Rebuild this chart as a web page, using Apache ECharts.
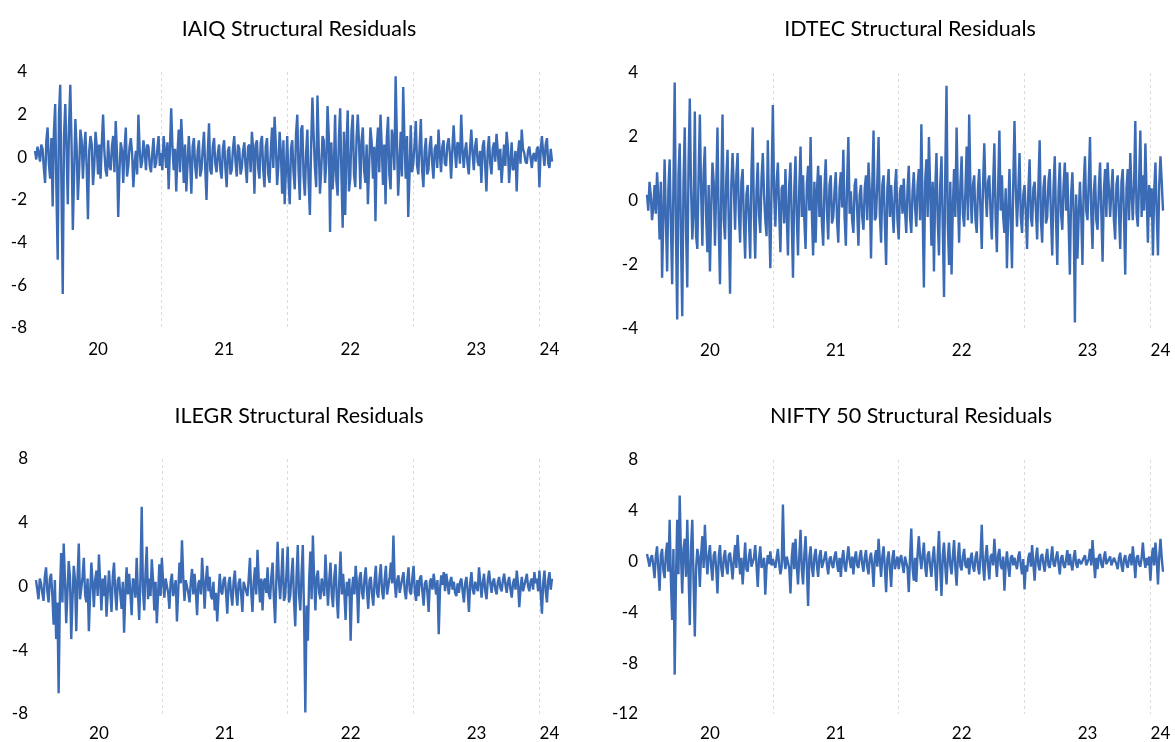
<!DOCTYPE html>
<html>
<head>
<meta charset="utf-8">
<script src="https://cdn.jsdelivr.net/npm/echarts@6/dist/echarts.min.js"></script>
<style>
html,body{margin:0;padding:0;background:#fff;}
#c{width:1175px;height:742px;}
</style>
</head>
<body>
<div id="c"></div>
<script>
// ---- Data (about two samples per week, Jan 2020 -> Feb 2024) ----
const titles = ['IAIQ Structural Residuals', 'IDTEC Structural Residuals', 'ILEGR Structural Residuals', 'NIFTY 50 Structural Residuals'];
const yearLabels = ['20', '21', '22', '23', '24'];
const yearLabelIdx = [50, 150, 250, 350, 408];
const yearBoundIdx = [100, 200, 300, 400];

const iaiq = [
  0.3,-0.1,0.5,0.2,-0.2,0.6,0.4,-0.5,-1.2,0.8,1.4,-0.3,-1.0,0.9,-2.3,1.2,2.5,-1.6,-4.8,2.0,
  3.4,-1.5,-6.4,1.0,2.5,0.4,-2.2,1.5,3.4,0.6,-3.4,-0.8,1.8,0.5,-2.0,-0.6,1.3,0.8,-1.0,0.4,
  1.2,-0.5,-2.9,0.3,1.0,0.6,-1.3,-0.4,1.2,0.5,-0.8,0.6,-1.0,0.7,2.0,0.3,-0.6,-0.9,0.8,-0.4,
  -0.6,0.5,1.0,-0.7,1.7,0.2,-2.8,-0.6,0.7,0.3,-1.2,0.4,1.4,-0.9,-0.4,0.5,0.9,0.2,-1.4,-0.3,
  0.3,-0.8,2.0,0.4,-0.5,-0.2,0.8,0.3,-0.6,0.6,0.5,-0.4,-0.7,0.2,0.9,-0.5,-0.3,0.4,1.0,-0.4,
  0.2,-0.6,1.0,0.3,-0.5,0.7,-1.5,0.4,2.3,0.5,-0.6,0.4,-1.6,0.2,1.3,-0.7,1.8,0.4,-1.2,0.6,
  -1.6,-0.3,1.0,-0.2,-1.7,0.5,0.9,-0.4,-1.0,0.3,0.8,-0.9,-0.6,0.4,1.2,-0.5,-2.0,0.2,1.6,-0.6,
  -0.8,0.5,0.9,-0.3,-0.7,0.2,0.6,-0.6,-1.0,0.4,0.8,-0.5,-1.4,0.3,0.5,-0.8,-0.6,0.4,1.0,-0.2,
  -0.9,0.6,0.4,-0.8,-0.5,0.3,0.7,-0.4,-1.2,0.5,0.6,-0.7,1.2,0.4,-1.7,0.6,0.8,-0.5,-1.0,0.7,
  1.0,-0.6,-1.4,0.5,0.9,-0.8,-1.2,0.3,1.4,-0.5,1.9,0.6,-1.3,-0.4,1.2,0.2,-1.7,0.8,-2.2,-0.6,
  1.0,-1.0,-2.2,0.4,0.8,-0.7,-1.5,1.1,2.0,-0.6,-2.0,1.3,1.5,-0.9,-1.8,0.2,1.3,-1.2,-2.7,0.6,
  2.8,1.0,-0.5,-1.4,2.9,0.5,-1.7,-0.6,1.0,0.8,-1.2,-0.3,2.4,1.0,-3.5,0.7,-1.5,-0.5,2.0,-1.1,
  -1.8,0.9,2.3,-0.8,-3.3,1.2,-2.7,0.5,2.2,-1.6,-1.0,1.2,2.0,-0.8,-1.4,0.9,2.0,0.6,-1.5,0.8,
  1.4,-0.6,-1.2,0.6,-2.2,-0.4,1.4,0.7,-1.0,0.5,-3.0,0.4,1.4,-0.7,2.0,0.5,-1.3,0.6,-2.2,0.9,
  1.9,-0.8,-1.5,1.3,0.8,-0.6,3.8,0.9,-1.8,-0.4,1.2,-0.9,3.3,0.8,-1.0,1.0,-2.8,-0.8,1.5,-0.7,
  -0.3,0.6,1.7,-0.4,-0.8,0.5,1.8,-0.6,-1.4,0.3,0.9,-0.8,-0.6,0.5,1.0,-0.3,-1.0,0.4,0.6,-0.5,
  1.3,0.2,-0.7,0.5,0.8,-0.3,-0.4,0.6,0.9,0.2,-1.0,0.4,1.5,0.3,-0.5,0.7,0.6,-0.3,2.0,0.4,
  -0.5,0.3,0.7,-0.3,-0.8,0.4,1.3,0.2,-0.6,0.5,0.9,-0.2,-0.4,0.3,-1.2,0.5,0.8,-0.4,-1.6,0.3,
  1.0,-0.3,-0.8,0.4,0.7,-0.2,1.1,0.3,-0.6,0.4,-1.2,-0.3,0.6,-0.4,1.2,0.5,-1.2,-0.2,0.7,-0.6,
  -0.5,0.3,-1.6,0.2,0.8,-0.3,1.3,0.4,0.2,-0.2,-0.3,0.3,0.5,0.0,-0.5,0.1,0.2,-0.2,0.4,0.5,
  -1.4,0.3,1.0,0.2,-0.4,0.6,0.9,-0.3,-0.5,0.4,-0.2
];

const idtec = [
  0.2,-0.3,0.6,0.2,-0.6,-0.2,0.5,-0.4,0.9,0.1,-1.2,0.6,-2.4,-0.5,1.3,-0.6,-2.2,0.4,1.3,-0.8,
  -2.6,0.5,3.7,-1.0,-3.7,0.8,1.8,-1.2,-3.6,0.6,2.3,-0.9,-2.7,1.1,3.2,0.4,-1.2,-0.4,2.8,-1.1,
  -1.5,0.8,2.7,0.3,-1.4,0.9,1.7,-0.5,-1.6,0.5,-2.2,-0.3,1.2,0.6,-1.4,0.4,2.3,-0.8,-2.6,0.3,
  2.7,-0.6,-1.2,0.7,1.6,-0.8,-2.9,0.5,1.5,0.4,-0.9,0.8,1.5,-0.4,-1.3,0.6,1.0,-0.7,-1.8,0.2,
  0.5,-0.6,-1.8,0.9,2.3,-0.5,-1.8,0.3,1.2,-0.4,-1.0,0.7,1.5,0.2,-0.6,-1.1,1.9,-0.4,-2.1,0.6,
  3.0,0.2,-0.8,0.6,1.2,-0.3,-1.6,0.4,0.5,-0.7,1.0,-0.4,-1.7,0.5,1.2,-0.6,-2.4,0.3,1.4,-0.5,
  -1.7,0.4,1.7,-0.5,0.8,-0.6,-1.5,0.5,1.1,-0.3,2.0,-0.4,-1.7,0.6,-1.3,0.3,1.1,-0.5,0.8,-0.7,
  -1.4,0.4,1.3,-0.3,-1.2,0.5,0.8,-0.7,-0.5,0.3,0.9,-0.6,-1.3,0.4,0.9,-0.2,1.6,-0.5,-1.4,0.6,
  2.0,-0.4,0.3,-0.6,-1.0,0.5,0.7,-0.3,-1.4,0.2,0.5,-0.5,-0.9,0.4,0.8,-0.6,1.2,0.3,-1.8,0.5,
  2.2,-0.6,-0.5,0.6,2.0,-0.4,-1.3,0.5,0.8,-0.7,-2.0,0.4,1.0,-0.5,0.5,-0.3,-1.0,0.4,1.0,-0.6,
  -1.2,0.3,0.5,-0.4,0.7,-0.3,-1.0,0.4,1.1,-0.5,-1.0,0.3,0.9,-0.2,-0.8,0.5,1.0,-0.6,2.4,-0.3,
  -2.7,0.6,1.3,-0.5,2.0,0.4,-1.4,0.6,-2.2,0.3,1.5,-0.6,-1.7,0.5,1.4,-0.8,-3.0,0.9,3.6,-0.7,
  -2.0,0.6,-2.3,-0.2,1.0,-0.5,2.3,0.2,-1.3,0.5,1.4,-0.4,-0.8,0.3,1.7,-0.6,2.7,0.4,-0.7,0.5,
  0.8,-0.6,-1.0,0.4,1.0,-0.3,-1.5,0.5,1.8,0.3,-0.5,0.6,0.8,-0.4,-1.2,0.5,1.8,-0.5,-1.6,0.4,
  2.2,-0.3,0.8,-0.5,-1.0,0.4,-2.1,-0.4,1.0,-0.6,-2.1,0.5,2.5,0.4,-0.8,0.3,1.5,-0.5,-1.0,0.2,
  0.5,-0.4,-1.5,0.3,1.3,-0.5,-0.8,0.4,0.6,-0.3,-1.2,0.5,1.9,-0.6,-1.3,0.4,0.8,-0.7,-0.5,0.6,
  1.0,-0.5,-1.7,0.4,1.4,-0.6,-2.0,0.3,1.2,-0.4,-0.9,0.5,1.2,-0.3,0.9,-0.7,-2.3,0.2,0.9,-0.4,
  -3.8,0.2,-1.8,-0.5,0.6,-0.4,-2.0,0.5,1.4,-0.3,-0.6,0.6,2.0,-0.4,-1.5,0.3,0.8,-0.6,-0.9,0.4,
  1.2,-0.4,-1.9,0.3,1.0,-0.5,1.2,0.4,-0.5,0.3,1.0,-0.6,-1.2,0.5,0.8,-0.4,-1.5,0.6,1.0,-0.5,
  -2.3,0.4,1.0,-0.6,1.5,0.3,-0.6,0.5,2.5,-0.4,-0.8,0.6,2.2,-0.5,0.8,-0.3,1.8,0.2,-1.3,0.5,
  -0.5,0.4,-1.7,0.3,1.2,-0.4,-1.7,0.5,1.4,0.6,-0.3
];

const ilegr = [
  0.4,-0.2,-0.8,0.5,0.2,-0.4,-0.9,0.6,1.2,-0.3,-1.0,0.5,0.8,-0.6,-2.4,0.4,-3.3,-1.0,-6.7,-0.5,
  2.1,-1.0,2.7,0.5,-2.3,-0.4,1.6,0.6,-3.3,-0.8,1.3,0.4,-2.8,0.5,2.7,-0.8,-0.9,0.6,1.8,-0.5,
  -1.0,0.5,-2.8,-0.5,1.5,0.2,-1.3,0.4,1.0,-0.6,2.0,0.3,-1.5,0.5,-0.6,0.7,-1.9,-0.4,1.0,-0.3,
  -1.6,0.6,1.5,-0.4,-1.5,0.4,0.6,-0.5,-1.4,0.3,-2.9,-0.4,1.2,-0.5,0.8,-0.4,-1.8,0.5,0.3,-0.7,
  1.8,-0.4,-2.1,0.6,5.0,-0.3,-1.5,0.8,2.5,-0.8,0.5,-0.6,1.7,0.4,-1.5,0.3,-2.3,-0.5,1.4,-0.6,
  1.8,0.3,-0.7,0.5,0.6,-0.4,-1.4,0.3,0.8,-0.6,-0.5,0.4,-2.2,-0.3,1.5,0.2,2.9,0.6,-0.9,0.4,
  0.5,-0.4,-1.0,0.3,1.1,-0.5,0.8,-0.3,-1.8,0.2,0.4,-0.5,1.8,0.3,-1.4,0.4,1.3,-0.3,0.6,-0.6,
  -0.8,0.3,-1.5,-0.4,-2.2,-0.6,0.8,-0.3,-0.5,0.4,0.6,-0.4,-1.7,0.2,0.6,-0.5,-1.2,0.3,1.0,-0.4,
  -1.2,0.2,0.5,-0.5,-1.6,0.3,0.4,-0.3,-0.6,0.5,1.8,-0.4,-1.6,0.3,1.2,-0.5,2.3,0.4,-1.0,0.5,
  -1.5,0.3,0.5,-0.4,1.2,-0.5,-0.8,0.6,1.5,-0.7,-2.3,0.5,2.8,0.4,-0.8,0.6,2.4,-0.9,-0.6,0.8,
  2.5,-1.0,-0.6,0.7,1.8,-0.9,-2.5,0.6,2.6,-0.5,-1.5,0.8,2.6,-1.8,-7.9,-1.2,-3.4,0.4,2.2,-0.8,
  3.2,0.5,-1.5,0.6,1.0,-0.4,-0.8,0.5,0.6,-0.6,2.0,0.3,-1.2,0.4,1.5,-0.5,-1.3,0.6,1.4,-0.7,
  -2.0,0.4,2.2,-0.5,0.8,-0.4,-2.1,0.3,-0.6,0.5,-3.4,-0.3,0.6,-0.5,1.3,0.2,-2.3,0.5,0.9,-0.4,
  -0.8,0.5,1.2,-0.3,-1.4,0.4,0.6,-0.5,-1.2,0.3,1.3,-0.4,-0.7,0.6,1.4,-0.3,-0.8,0.4,1.3,-0.5,
  -0.5,0.6,1.5,0.2,3.2,0.3,-0.7,0.4,0.7,-0.4,-0.5,0.5,0.9,-0.3,-0.8,0.4,1.2,-0.3,-0.5,0.5,
  1.3,-0.3,-0.9,0.4,-0.6,0.5,0.7,-0.3,-1.2,0.2,0.4,-0.4,-1.6,0.3,0.5,-0.2,0.8,0.1,-0.5,0.4,
  -3.0,-0.2,0.7,0.1,0.9,-0.3,0.8,0.2,-0.5,0.3,0.6,-0.2,0.3,-0.4,-0.6,0.2,-0.4,0.3,0.5,-0.3,
  -1.0,0.2,0.6,-0.3,-1.6,0.2,0.9,-0.2,-0.5,0.3,0.4,-0.3,1.2,0.3,-0.7,0.2,0.8,-0.3,-0.8,0.4,
  1.0,0.2,-0.4,0.3,0.5,-0.2,-0.5,0.3,0.6,-0.1,-0.3,0.4,0.8,0.1,-0.4,0.3,0.6,-0.2,-0.7,0.2,
  0.5,-0.2,1.0,0.2,-1.3,-0.1,0.6,-0.3,-0.3,0.4,0.8,0.0,-0.3,0.3,0.5,-0.2,0.9,0.2,0.5,-0.3,
  1.0,-0.4,-1.7,0.2,1.0,-0.3,-1.0,0.4,0.9,-0.2,0.5
];

const nifty = [
  0.6,0.1,-0.4,0.3,0.5,-0.3,-1.3,0.4,1.2,-0.6,-2.3,0.5,1.0,-0.7,-1.3,0.6,1.5,-0.8,3.3,-1.5,
  -4.6,1.0,-8.9,-1.5,3.3,-1.0,5.2,0.5,-2.5,1.0,1.8,-1.2,3.3,-0.8,-5.0,1.2,3.3,-1.5,-5.9,-0.5,
  1.0,0.3,-2.0,0.6,2.0,-0.5,2.9,0.4,-1.0,0.5,1.3,-0.4,-1.5,0.5,0.8,-0.6,-2.5,0.4,1.3,-0.5,
  -1.2,0.3,0.9,-0.4,-1.0,0.5,0.7,-0.3,-1.4,0.2,1.3,-0.5,2.1,0.4,-1.0,0.3,-1.8,-0.2,1.5,-0.6,
  -0.8,0.4,1.0,-0.4,-0.5,0.3,1.3,-0.3,-2.0,0.2,1.2,-0.5,-0.6,0.3,-2.6,-0.4,0.5,-0.2,0.8,-0.3,
  0.2,-0.2,-0.5,0.3,1.0,-0.2,-1.0,-0.4,4.5,0.2,-0.6,0.4,0.3,-0.5,-2.5,0.3,1.5,-0.6,1.8,-0.3,
  -1.8,0.4,2.5,-0.6,-1.8,0.5,2.0,-0.4,-3.5,0.3,1.2,-0.5,-1.2,0.4,1.0,-0.3,-1.2,0.4,0.9,-0.5,
  -0.5,0.3,0.8,-0.3,-1.0,0.2,0.4,-0.3,-0.5,0.4,0.8,-0.2,-0.8,0.3,-1.2,0.2,0.9,-0.4,-0.8,0.3,
  1.2,0.1,-0.5,0.4,-1.0,0.2,0.8,-0.3,-0.5,0.4,0.9,-0.2,-0.8,0.3,0.9,-0.4,-1.0,0.2,0.7,-0.3,
  -2.0,0.3,0.9,-0.4,1.8,0.2,-1.2,0.4,1.2,-0.5,-2.4,0.2,0.8,-0.5,-2.0,0.3,0.9,-0.6,-0.5,0.4,
  -0.6,0.2,0.5,-0.3,-0.9,0.4,0.3,-0.5,-2.4,0.4,2.6,-0.5,-1.5,0.3,-1.6,0.6,2.0,0.4,-0.6,0.5,
  1.5,-0.4,-1.2,0.5,0.8,-0.4,-1.2,0.3,1.2,-0.5,-2.3,0.4,2.4,-0.6,-2.7,0.5,1.5,-0.4,-1.8,0.3,
  1.5,-0.3,-1.0,0.4,1.7,-0.5,-1.9,0.3,1.5,-0.4,-0.7,0.4,1.0,-0.3,-0.5,0.3,-1.0,0.2,0.7,-0.4,
  -0.8,0.3,0.8,-0.4,-1.0,0.5,2.9,-0.3,-1.5,0.4,1.3,-0.3,-1.4,0.4,0.6,-0.3,1.8,0.2,-1.2,0.5,
  1.0,-0.3,-0.6,0.4,-2.3,-0.2,0.8,-0.4,-1.2,0.3,0.5,-0.3,0.3,-0.2,-0.6,0.4,0.8,-0.3,-1.0,0.2,
  -2.2,-0.3,-0.8,0.3,0.7,-0.4,1.3,-0.2,-1.5,0.3,1.1,-0.3,-0.7,0.4,0.6,-0.2,-0.8,0.3,1.0,-0.3,
  -0.5,0.3,1.2,-0.2,-0.4,0.3,0.8,-0.2,-1.0,0.3,0.5,-0.3,-0.5,0.2,0.9,-0.3,0.6,-0.2,-0.7,0.3,
  0.9,-0.2,-0.5,0.2,0.3,-0.2,-0.3,0.3,0.5,-0.3,-0.4,0.2,1.0,-0.3,1.7,0.2,-1.3,0.3,-0.6,0.4,
  0.6,-0.2,-0.5,0.3,0.8,-0.2,-0.3,0.2,0.4,-0.3,-0.4,0.3,0.4,-0.2,-0.6,0.3,0.7,-0.3,-0.8,0.2,
  0.5,-0.2,-0.5,0.3,0.6,-0.3,1.2,0.1,-1.3,0.3,0.5,-0.2,-0.4,0.3,1.5,0.2,-0.5,0.3,-0.3,0.4,
  -1.5,0.3,1.1,-0.3,1.5,0.2,-1.8,0.4,1.8,0.3,-0.8
];

const seriesData = [iaiq, idtec, ilegr, nifty];
const yMin = [-8, -4, -8, -12];
const yMax = [4, 4, 8, 8];
const yStep = [2, 2, 4, 4];

// ---- Layout ----
const FONT = 'Lato, "Open Sans", sans-serif';
const LINE = '#3b6bb5';
const grids = [
  {left: 35, top: 72, width: 517, height: 256},
  {left: 647, top: 73, width: 516, height: 256},
  {left: 36, top: 459, width: 516, height: 258},
  {left: 647, top: 460, width: 516, height: 257}
];
const titlePos = [[294, 13], [905, 13], [294, 400], [906, 400]];

const option = {
  animation: false,
  backgroundColor: '#fff',
  title: titles.map((t, i) => ({
    text: t,
    left: titlePos[i][0],
    top: titlePos[i][1],
    textAlign: 'center',
    textStyle: {fontFamily: FONT, fontSize: 21.5, fontWeight: 'normal', color: '#000'}
  })),
  grid: grids,
  xAxis: seriesData.map((d, i) => ({
    type: 'category',
    gridIndex: i,
    boundaryGap: false,
    data: d.map((_, k) => k),
    axisLine: {show: false},
    axisTick: {show: false},
    axisLabel: {
      interval: (k) => yearLabelIdx.includes(k),
      formatter: (v, k) => yearLabels[yearLabelIdx.indexOf(k)] || '',
      color: '#000', fontFamily: FONT, fontSize: 17, margin: i < 2 ? 13 : 11
    },
    splitLine: {
      show: true,
      interval: (k) => yearBoundIdx.includes(k),
      lineStyle: {color: '#dcdcdc', type: [3, 3], width: 1}
    }
  })),
  yAxis: seriesData.map((d, i) => ({
    type: 'value',
    gridIndex: i,
    min: yMin[i], max: yMax[i], interval: yStep[i],
    axisLine: {show: false},
    axisTick: {show: false},
    splitLine: {show: false},
    axisLabel: {color: '#000', fontFamily: FONT, fontSize: 17, margin: i % 2 === 0 ? 8 : 9}
  })),
  series: seriesData.map((d, i) => ({
    type: 'line',
    xAxisIndex: i,
    yAxisIndex: i,
    data: d,
    showSymbol: false,
    symbol: 'none',
    lineStyle: {color: LINE, width: 2.4},
    z: 3
  }))
};

const chart = echarts.init(document.getElementById('c'), null, {renderer: 'canvas'});
chart.setOption(option);
</script>
</body>
</html>
